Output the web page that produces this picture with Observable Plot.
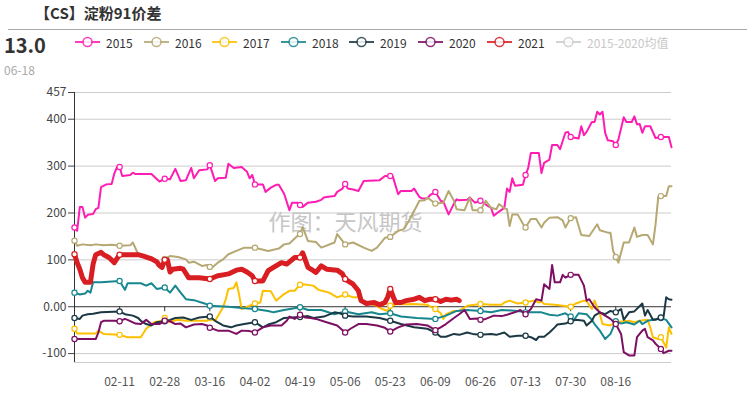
<!DOCTYPE html>
<html><head><meta charset="utf-8">
<script src="https://cdn.jsdelivr.net/npm/d3@7"></script>
<script src="https://cdn.jsdelivr.net/npm/@observablehq/plot@0.6"></script>
<style>
body{margin:0;background:#fff;font-family:"Noto Sans CJK SC","Noto Sans",sans-serif;}
#wrap{position:relative;width:753px;height:398px;overflow:hidden;}
#head{position:relative;height:80px;}
#title{position:absolute;left:35px;top:3px;font-size:15px;font-weight:bold;line-height:20px;color:#333;white-space:nowrap;}
#rule{position:absolute;left:8px;top:29px;width:739px;height:1px;background:#aaa;}
#last{position:absolute;left:4px;top:33px;font-size:20px;font-weight:bold;line-height:24px;color:#333;}
#lastdate{position:absolute;left:4px;top:62px;font-size:12px;line-height:16px;color:#aaa;}
.item{position:absolute;top:35px;height:14px;display:flex;align-items:center;font-size:12px;color:#333;white-space:nowrap;}
.item span{margin-left:6px;}
</style></head><body>
<div id="wrap">
 <div id="head">
  <div id="title">【CS】淀粉91价差</div>
  <div id="rule"></div>
  <div id="last">13.0</div>
  <div id="lastdate">06-18</div>
  <div id="legend"></div>
 </div>
 <div id="chart"></div>
</div>
<script>
const seriesNames = ["2015","2016","2017","2018","2019","2020","2021","2015-2020均值"];
const seriesColors = ["#ff1cb3","#b6a872","#fdc000","#16878e","#1b3844","#7d0f62","#d81e22","#cccccc"];
const yTicks = [457,400,300,200,100,0,-100];
const tickLabels = ["02-11","02-28","03-16","04-02","04-19","05-06","05-23","06-09","06-26","07-13","07-30","08-16"];
const markerLabels = ["01-25", ...tickLabels, "09-02"];
const dateRange = ["01-25","09-06"];
const yRange = [-119, 457];

const s2015 = [["01-25",169],["01-26",162],["01-27",213],["01-28",213],["01-29",190],["01-30",196],["02-01",198],["02-02",208],["02-03",211],["02-04",255],["02-06",261],["02-08",262],["02-09",284],["02-10",298],["02-11",298],["02-12",279],["02-15",281],["02-16",286],["02-17",283],["02-23",283],["02-26",267],["02-28",273],["03-01",272],["03-03",294],["03-05",268],["03-07",270],["03-09",296],["03-10",274],["03-12",291],["03-15",293],["03-16",302],["03-18",268],["03-19",274],["03-22",275],["03-23",305],["03-25",296],["03-28",298],["03-30",288],["03-31",274],["04-01",281],["04-02",261],["04-05",261],["04-06",245],["04-08",254],["04-10",260],["04-11",260],["04-13",241],["04-15",206],["04-16",222],["04-18",222],["04-19",217],["04-20",213],["04-22",222],["04-25",224],["04-27",228],["04-28",233],["04-29",234],["05-02",236],["05-03",245],["05-05",252],["05-06",262],["05-07",252],["05-09",250],["05-11",247],["05-13",268],["05-19",270],["05-21",279],["05-23",279],["05-24",277],["05-26",240],["05-27",247],["05-31",247],["06-01",252],["06-03",234],["06-04",231],["06-06",231],["06-07",238],["06-09",245],["06-11",226],["06-12",224],["06-14",197],["06-16",220],["06-17",229],["06-18",227],["06-21",228],["06-22",233],["06-23",227],["06-24",222],["06-26",226],["06-28",218],["06-30",211],["07-01",194],["07-03",203],["07-05",211],["07-06",252],["07-07",245],["07-08",274],["07-09",258],["07-12",260],["07-13",281],["07-14",296],["07-15",328],["07-18",328],["07-19",285],["07-20",307],["07-22",314],["07-23",345],["07-25",345],["07-26",336],["07-28",371],["07-29",373],["07-30",362],["08-02",359],["08-03",385],["08-04",366],["08-05",373],["08-07",394],["08-08",394],["08-09",416],["08-10",410],["08-11",416],["08-12",371],["08-13",355],["08-15",353],["08-16",345],["08-17",357],["08-19",404],["08-20",394],["08-22",394],["08-23",406],["08-24",389],["08-25",390],["08-26",371],["08-27",385],["08-29",385],["08-31",360],["09-02",362],["09-05",362],["09-06",340]];

const s2016 = [["01-25",141],["01-26",130],["01-28",133],["01-31",131],["02-02",133],["02-05",131],["02-08",132],["02-11",130],["02-15",131],["02-16",137],["02-18",112],["02-21",105],["02-23",106],["02-25",98],["02-26",87],["02-27",80],["02-28",102],["03-01",108],["03-04",106],["03-07",101],["03-08",94],["03-10",96],["03-13",87],["03-15",89],["03-16",85],["03-17",84],["03-19",94],["03-21",101],["03-23",112],["03-26",119],["03-29",126],["04-02",126],["04-07",119],["04-11",124],["04-13",133],["04-15",135],["04-18",151],["04-19",155],["04-20",170],["04-22",140],["04-25",138],["04-27",126],["05-02",137],["05-03",155],["05-06",133],["05-09",137],["05-13",126],["05-16",119],["05-18",126],["05-21",147],["05-23",149],["05-26",162],["05-28",165],["05-30",183],["06-01",204],["06-03",226],["06-05",227],["06-06",233],["06-09",220],["06-12",222],["06-14",247],["06-16",226],["06-17",208],["06-20",206],["06-22",233],["06-23",206],["06-26",206],["06-28",226],["06-30",211],["07-02",208],["07-03",219],["07-05",210],["07-06",208],["07-07",172],["07-08",197],["07-10",197],["07-12",177],["07-13",169],["07-15",187],["07-17",187],["07-19",169],["07-20",179],["07-22",190],["07-25",191],["07-27",184],["07-28",169],["07-30",189],["08-01",191],["08-03",153],["08-06",151],["08-09",176],["08-10",163],["08-13",158],["08-14",158],["08-15",119],["08-16",106],["08-17",94],["08-19",137],["08-21",137],["08-23",169],["08-24",149],["08-26",153],["08-28",153],["08-30",133],["08-31",176],["09-01",234],["09-02",236],["09-04",236],["09-05",257],["09-06",257]];

const s2017 = [["01-25",-47],["01-26",-57],["02-02",-57],["02-03",-51],["02-05",-58],["02-11",-60],["02-14",-65],["02-19",-65],["02-21",-47],["02-24",-33],["02-27",-30],["02-28",-24],["02-29",-33],["03-04",-28],["03-07",-30],["03-12",-30],["03-15",-30],["03-16",-24],["03-18",-30],["03-21",-1],["03-22",16],["03-23",38],["03-25",40],["03-26",52],["03-27",27],["03-28",-5],["03-31",2],["04-02",7],["04-04",9],["04-05",34],["04-08",33],["04-10",13],["04-13",27],["04-15",34],["04-17",34],["04-19",47],["04-20",48],["04-24",45],["04-26",36],["04-28",33],["04-30",30],["05-03",20],["05-06",26],["05-09",20],["05-11",20],["05-13",9],["05-18",2],["05-20",-5],["05-22",-9],["05-23",2],["05-26",6],["05-28",5],["05-31",6],["06-06",4],["06-09",-5],["06-11",-14],["06-12",-26],["06-13",-16],["06-16",-9],["06-18",-9],["06-21",2],["06-26",6],["06-30",4],["07-04",4],["07-05",9],["07-07",13],["07-10",7],["07-13",9],["07-16",13],["07-18",9],["07-19",11],["07-20",6],["07-24",4],["07-27",2],["07-30",0],["08-01",7],["08-04",13],["08-05",12],["08-07",-5],["08-08",13],["08-10",-16],["08-11",-37],["08-14",-40],["08-16",-33],["08-19",-31],["08-21",-30],["08-23",-33],["08-25",-30],["08-28",-28],["08-29",-44],["08-30",-65],["09-01",-69],["09-02",-65],["09-04",-87],["09-05",-44],["09-06",-58]];

const s2018 = [["01-25",30],["01-27",26],["01-29",28],["01-30",34],["01-31",30],["02-01",52],["02-04",52],["02-11",55],["02-13",36],["02-14",50],["02-19",50],["02-21",45],["02-23",50],["02-25",38],["02-28",41],["03-01",30],["03-03",45],["03-05",30],["03-07",16],["03-10",14],["03-14",7],["03-16",2],["03-23",0],["03-28",-3],["04-02",-5],["04-07",-9],["04-09",-12],["04-13",-7],["04-19",-1],["04-22",-7],["04-27",-7],["05-02",-16],["05-06",-10],["05-11",-16],["05-16",-12],["05-19",-16],["05-23",-14],["05-27",-21],["06-02",-24],["06-09",-26],["06-13",-19],["06-17",-9],["06-21",-7],["06-26",-9],["06-30",-12],["07-04",-7],["07-10",-9],["07-13",-12],["07-15",-12],["07-19",-12],["07-22",-17],["07-25",-19],["07-28",-14],["07-30",-21],["07-31",-30],["08-02",-14],["08-05",-16],["08-07",-28],["08-08",-37],["08-10",-51],["08-12",-69],["08-14",-58],["08-16",-31],["08-18",-36],["08-20",-33],["08-23",-38],["08-25",-30],["08-26",-37],["08-28",-30],["08-30",-28],["09-02",-24],["09-04",-28],["09-06",-44]];

const s2019 = [["01-25",-24],["01-27",-26],["01-28",-19],["01-30",-16],["02-01",-15],["02-04",-12],["02-11",-10],["02-13",-16],["02-16",-19],["02-18",-24],["02-19",-30],["02-21",-37],["02-23",-40],["02-25",-33],["02-28",-31],["03-01",-28],["03-03",-24],["03-06",-23],["03-09",-28],["03-12",-23],["03-16",-21],["03-18",-30],["03-21",-40],["03-24",-44],["03-26",-40],["03-29",-37],["04-02",-33],["04-05",-44],["04-07",-38],["04-10",-33],["04-13",-24],["04-16",-23],["04-19",-22],["04-22",-20],["04-24",-24],["04-28",-21],["05-02",-12],["05-04",-14],["05-06",-19],["05-09",-21],["05-14",-21],["05-19",-24],["05-23",-30],["05-27",-37],["06-01",-44],["06-06",-47],["06-09",-55],["06-11",-64],["06-13",-64],["06-16",-58],["06-18",-60],["06-21",-55],["06-23",-58],["06-26",-60],["06-30",-58],["07-02",-60],["07-05",-55],["07-07",-64],["07-10",-62],["07-13",-62],["07-15",-65],["07-17",-71],["07-18",-64],["07-20",-64],["07-22",-55],["07-24",-44],["07-25",-38],["07-28",-36],["07-30",-31],["08-01",-28],["08-04",-30],["08-05",-40],["08-07",-30],["08-08",-19],["08-10",-12],["08-12",-16],["08-14",-9],["08-16",-12],["08-18",-5],["08-19",-28],["08-21",-12],["08-23",-10],["08-26",7],["08-27",-19],["08-28",-7],["08-30",-28],["08-31",-28],["09-02",-23],["09-03",-22],["09-04",20],["09-05",16],["09-06",15]];

const s2020 = [["01-25",-69],["02-02",-69],["02-03",-55],["02-04",-33],["02-05",-30],["02-09",-30],["02-11",-31],["02-13",-26],["02-14",-28],["02-17",-36],["02-19",-37],["02-21",-28],["02-23",-37],["02-26",-37],["02-28",-30],["03-01",-31],["03-03",-37],["03-05",-36],["03-07",-44],["03-10",-38],["03-13",-37],["03-15",-40],["03-16",-45],["03-19",-51],["03-23",-51],["03-26",-58],["03-28",-51],["03-31",-52],["04-02",-55],["04-05",-44],["04-08",-40],["04-12",-40],["04-14",-30],["04-15",-21],["04-17",-26],["04-19",-17],["04-21",-23],["04-23",-24],["04-25",-26],["04-29",-33],["05-03",-40],["05-06",-55],["05-08",-47],["05-11",-37],["05-14",-37],["05-18",-40],["05-21",-45],["05-23",-53],["05-26",-44],["05-29",-38],["06-02",-37],["06-06",-40],["06-09",-50],["06-11",-44],["06-13",-37],["06-16",-24],["06-18",-16],["06-20",-7],["06-22",-26],["06-25",-25],["06-26",-28],["06-28",-26],["07-01",-19],["07-04",-20],["07-06",-17],["07-10",-10],["07-11",-7],["07-13",-16],["07-15",-5],["07-17",16],["07-19",13],["07-20",48],["07-22",38],["07-23",89],["07-24",52],["07-26",52],["07-27",68],["07-28",62],["07-30",68],["08-02",68],["08-04",45],["08-05",13],["08-06",16],["08-08",-1],["08-10",-12],["08-12",-19],["08-14",-26],["08-16",-37],["08-18",-58],["08-19",-97],["08-21",-104],["08-23",-104],["08-24",-65],["08-26",-51],["08-27",-47],["08-28",-65],["08-30",-72],["08-31",-79],["09-02",-90],["09-03",-99],["09-05",-94],["09-06",-94]];

const s2021 = [["01-25",112],["01-26",94],["01-27",80],["01-28",62],["01-29",52],["01-31",52],["02-01",91],["02-02",111],["02-04",116],["02-05",111],["02-07",105],["02-09",94],["02-11",111],["02-18",111],["02-20",108],["02-23",102],["02-25",96],["02-26",88],["02-27",84],["02-28",100],["02-29",100],["03-01",74],["03-02",80],["03-05",82],["03-06",80],["03-08",62],["03-12",62],["03-16",59],["03-19",66],["03-21",68],["03-23",70],["03-26",78],["03-28",80],["03-30",74],["04-01",66],["04-02",55],["04-05",55],["04-07",77],["04-09",84],["04-12",94],["04-14",91],["04-17",105],["04-19",105],["04-20",115],["04-22",84],["04-24",77],["04-25",73],["04-27",87],["04-29",80],["05-03",78],["05-05",70],["05-06",59],["05-09",48],["05-11",34],["05-12",13],["05-14",7],["05-17",9],["05-19",4],["05-21",9],["05-22",20],["05-23",38],["05-24",23],["05-25",9],["05-27",9],["05-29",13],["06-01",16],["06-03",20],["06-05",13],["06-07",16],["06-09",16],["06-11",11],["06-13",16],["06-15",14],["06-17",16],["06-18",13]];

const seriesData = [s2015, s2016, s2017, s2018, s2019, s2020, s2021];
const lineWidths = [2, 2, 2, 2, 2, 2, 5];

const parseMD = md => { const [m, d] = md.split("-").map(Number); return new Date(Date.UTC(2020, m - 1, d)); };
const markerSet = new Set(markerLabels);
const tickDates = tickLabels.map(parseMD);

// legend
const legendX = [75, 144, 212, 281, 349, 418, 487, 556];
const legend = document.getElementById("legend");
seriesNames.forEach((name, i) => {
  const c = seriesColors[i];
  const el = document.createElement("div");
  el.className = "item";
  el.style.left = legendX[i] + "px";
  if (i === 7) el.style.color = "#c8c8c8";
  el.innerHTML = `<svg width="25" height="12" style="overflow:visible"><line x1="0" x2="25" y1="6" y2="6" stroke="${c}" stroke-width="2" opacity="0.85"/><circle cx="12.5" cy="6" r="4.5" fill="white" stroke="${c}" stroke-width="1.5" opacity="0.85"/></svg><span>${name}</span>`;
  legend.appendChild(el);
});

const marks = [
  Plot.gridY([...yTicks.filter(v => v !== 0), yRange[0]], {stroke: "#cccccc", strokeOpacity: 1}),
  Plot.text(["作图：天风期货"], {text: d => d, frameAnchor: "top-left", dx: 194, dy: 130, textAnchor: "start", lineAnchor: "middle", fontSize: 22, fill: "#c6c6c6"}),
  Plot.ruleY([0], {stroke: "#333"}),
  Plot.ruleX(tickDates, {x: d => d, y1: 0, y2: 0, insetTop: 0, insetBottom: -5, stroke: "#333"}),
  Plot.ruleX([parseMD(dateRange[0])], {stroke: "#333"}),
  Plot.axisY(yTicks, {tickSize: 6, tickPadding: 2, tickFormat: d => d === 0 ? "0.00" : String(d), fontSize: 12, color: "#444"}),
  Plot.axisX(tickDates, {tickSize: 0, tickPadding: 15, tickFormat: d3.utcFormat("%m-%d"), fontSize: 12, color: "#555"})
];

seriesData.forEach((arr, i) => {
  const rows = arr.map(([md, v]) => ({date: parseMD(md), md, value: v}));
  marks.push(Plot.line(rows, {x: "date", y: "value", stroke: seriesColors[i], strokeWidth: lineWidths[i], strokeLinejoin: "round", strokeLinecap: "round"}));
  marks.push(Plot.dot(rows.filter(r => markerSet.has(r.md)), {x: "date", y: "value", r: 2.6, fill: "white", stroke: seriesColors[i], strokeWidth: 1.2}));
});

const chart = Plot.plot({
  width: 753,
  height: 318,
  marginTop: 12,
  marginBottom: 36,
  marginLeft: 74,
  marginRight: 82,
  x: {type: "utc", domain: dateRange.map(parseMD), label: null},
  y: {domain: yRange, label: null},
  style: {fontFamily: '"Noto Sans CJK SC","Noto Sans",sans-serif', fontSize: "12px", background: "white", overflow: "visible"},
  marks
});
document.getElementById("chart").appendChild(chart);
</script>
</body></html>
